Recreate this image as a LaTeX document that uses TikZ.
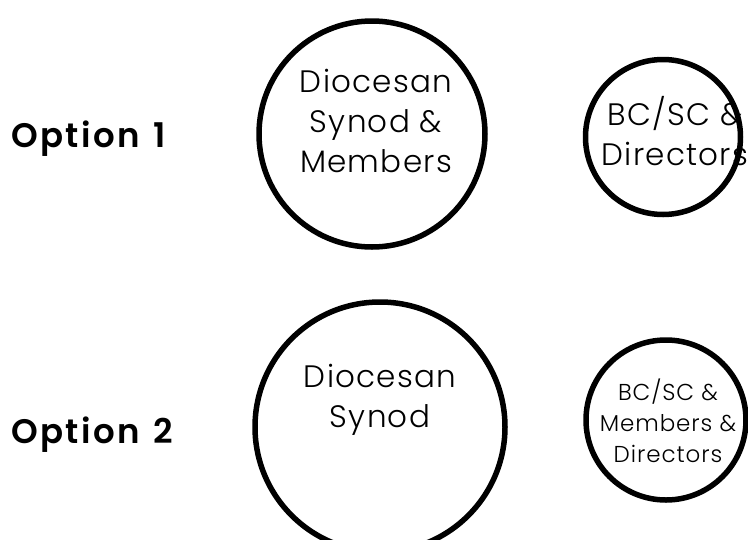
\documentclass[tikz,border=0pt]{standalone}
\usepackage{fontspec}
\setmainfont{Poppins}
\newfontfamily\lightfont{Poppins Light}[LetterSpace=4]
\newfontfamily\heavyfont{Poppins SemiBold}[LetterSpace=7]
\usepackage{tikz}
\definecolor{ink}{HTML}{000000}
\definecolor{bg}{HTML}{FFFFFF}
\tikzset{
  ring/.style={circle, draw=ink, line width=5.5pt, inner sep=0pt},
  lab/.style={text=ink, align=center, font=\lightfont\fontsize{31}{40}\selectfont},
  labs/.style={text=ink, align=center, font=\lightfont\fontsize{23}{31}\selectfont},
  opt/.style={text=ink, anchor=base west, inner sep=0pt, font=\heavyfont\fontsize{34}{40}\selectfont},
}
\begin{document}
\begin{tikzpicture}[x=1pt,y=-1pt]
  \fill[bg] (0,0) rectangle (748,539);
  \clip (0,0) rectangle (748,539);

  % option 1
  \node[opt] (opt1) at (11,147) {Option\hspace{14pt}1};
  \node[ring, minimum size=226pt] (syn1) at (372,134) {};
  \node[ring, minimum size=155pt] (bc1) at (663,137) {};
  \node[lab] (syn1t) at (376,121) {Diocesan\\Synod \&\\Members};
  \node[lab] (bc1t) at (675,131) {BC/SC \&\\Directors};

  % option 2
  \node[opt] (opt2) at (11,443) {Option\hspace{14pt}2};
  \node[ring, minimum size=250pt] (syn2) at (380,427) {};
  \node[ring, minimum size=160pt] (bc2) at (666,420) {};
  \node[lab] (syn2t) at (380,400) {Diocesan\\Synod};
  \node[labs] (bc2t) at (668,421) {BC/SC \&\\Members \&\\Directors};
\end{tikzpicture}
\end{document}
